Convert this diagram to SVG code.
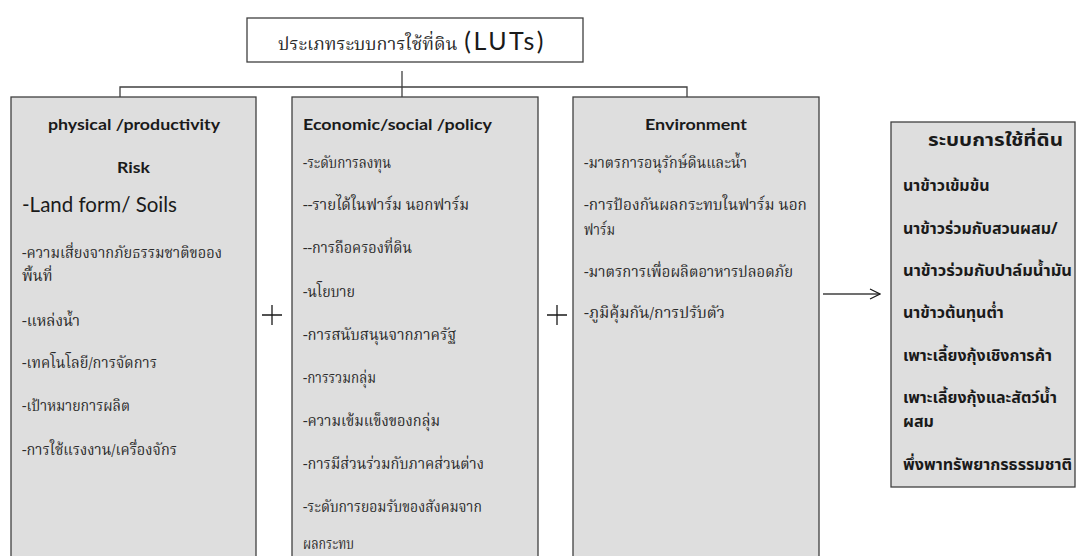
<svg xmlns="http://www.w3.org/2000/svg" width="1079" height="556" viewBox="0 0 1079 556">
  <style>
    .box { fill: #dedede; stroke: #404040; stroke-width: 1.3; }
    .title-box { fill: #ffffff; stroke: #404040; stroke-width: 1.3; }
    .wire { fill: none; stroke: #404040; stroke-width: 1.3; }
    .plus { fill: none; stroke: #1a1a1a; stroke-width: 1.3; }
    .head { font-family: Lato, "Open Sans", "Liberation Sans", sans-serif; font-weight: bold; font-size: 15px; fill: #1a1a1a; }
    .lat { font-family: Lato, "Open Sans", "Liberation Sans", sans-serif; fill: #1a1a1a; }
    .th { font-family: "Noto Serif Thai", "Noto Sans Thai", "Noto Sans", serif; font-size: 15px; fill: #2a2a2a; }
    .thb { font-family: "Noto Sans Thai", "Noto Sans", "DejaVu Sans", sans-serif; font-weight: bold; font-size: 16px; fill: #1a1a1a; }
    .title-th { font-size: 18px; }
    .title-lat { font-size: 25px; letter-spacing: 2.5px; }
    .list-head { font-size: 17.5px; }
  </style>
  <defs>
    <marker id="open-arrow" markerWidth="12" markerHeight="12" refX="11" refY="6" orient="auto" markerUnits="userSpaceOnUse">
      <path d="M1,1 L11,6 L1,11" fill="none" stroke="#1a1a1a" stroke-width="1.2"/>
    </marker>
  </defs>

  <!-- connectors -->
  <g id="connectors">
    <line class="wire" x1="402" y1="71" x2="402" y2="97"/>
    <polyline class="wire" points="120,97 120,87 687,87 687,97"/>
    <line class="wire" x1="823" y1="294" x2="880" y2="294" marker-end="url(#open-arrow)"/>
    <path class="plus" d="M262,315 H282 M272,305 V325"/>
    <path class="plus" d="M547,315 H567 M557,305 V325"/>
  </g>

  <!-- title node -->
  <g id="node-luts">
    <rect class="title-box" x="247" y="18" width="336" height="44"/>
    <text x="278" y="50"><tspan class="th title-th">ประเภทระบบการใช้ที่ดิน</tspan><tspan class="lat title-lat" dx="7">(LUTs)</tspan></text>
  </g>

  <!-- physical / productivity -->
  <g id="node-physical">
    <rect class="box" x="11" y="97" width="245" height="475"/>
    <text class="head" x="48" y="130" textLength="172" lengthAdjust="spacingAndGlyphs">physical /productivity</text>
    <text class="head" x="117" y="173" textLength="33" lengthAdjust="spacingAndGlyphs">Risk</text>
    <text class="lat" x="22" y="212" font-size="21" textLength="155" lengthAdjust="spacingAndGlyphs">-Land form/ Soils</text>
    <text class="th" x="22" y="258" textLength="200" lengthAdjust="spacingAndGlyphs">-ความเสี่ยงจากภัยธรรมชาติขออง</text>
    <text class="th" x="22" y="281">พื้นที่</text>
    <text class="th" x="22" y="326" textLength="58" lengthAdjust="spacingAndGlyphs">-แหล่งน้ำ</text>
    <text class="th" x="22" y="368" textLength="135" lengthAdjust="spacingAndGlyphs">-เทคโนโลยี/การจัดการ</text>
    <text class="th" x="22" y="411" textLength="108" lengthAdjust="spacingAndGlyphs">-เป้าหมายการผลิต</text>
    <text class="th" x="22" y="455" textLength="155" lengthAdjust="spacingAndGlyphs">-การใช้แรงงาน/เครื่องจักร</text>
  </g>

  <!-- economic / social / policy -->
  <g id="node-economic">
    <rect class="box" x="292" y="97" width="246" height="475"/>
    <text class="head" x="303" y="130" textLength="189" lengthAdjust="spacingAndGlyphs">Economic/social /policy</text>
    <text class="th" x="303" y="168" textLength="88" lengthAdjust="spacingAndGlyphs">-ระดับการลงทุน</text>
    <text class="th" x="303" y="210" textLength="166" lengthAdjust="spacingAndGlyphs">--รายได้ในฟาร์ม นอกฟาร์ม</text>
    <text class="th" x="303" y="253" textLength="109" lengthAdjust="spacingAndGlyphs">--การถือครองที่ดิน</text>
    <text class="th" x="303" y="297" textLength="52" lengthAdjust="spacingAndGlyphs">-นโยบาย</text>
    <text class="th" x="303" y="340" textLength="153" lengthAdjust="spacingAndGlyphs">-การสนับสนุนจากภาครัฐ</text>
    <text class="th" x="303" y="383" textLength="73" lengthAdjust="spacingAndGlyphs">-การรวมกลุ่ม</text>
    <text class="th" x="303" y="426" textLength="137" lengthAdjust="spacingAndGlyphs">-ความเข้มแข็งของกลุ่ม</text>
    <text class="th" x="303" y="469" textLength="181" lengthAdjust="spacingAndGlyphs">-การมีส่วนร่วมกับภาคส่วนต่าง</text>
    <text class="th" x="303" y="512" textLength="179" lengthAdjust="spacingAndGlyphs">-ระดับการยอมรับของสังคมจาก</text>
    <text class="th" x="303" y="549" textLength="51" lengthAdjust="spacingAndGlyphs">ผลกระทบ</text>
  </g>

  <!-- environment -->
  <g id="node-environment">
    <rect class="box" x="573" y="97" width="246" height="475"/>
    <text class="head" x="645" y="130" textLength="102" lengthAdjust="spacingAndGlyphs">Environment</text>
    <text class="th" x="584" y="168" textLength="163" lengthAdjust="spacingAndGlyphs">-มาตรการอนุรักษ์ดินและน้ำ</text>
    <text class="th" x="584" y="210" textLength="223" lengthAdjust="spacingAndGlyphs">-การป้องกันผลกระทบในฟาร์ม นอก</text>
    <text class="th" x="584" y="235" textLength="31" lengthAdjust="spacingAndGlyphs">ฟาร์ม</text>
    <text class="th" x="584" y="277" textLength="209" lengthAdjust="spacingAndGlyphs">-มาตรการเพื่อผลิตอาหารปลอดภัย</text>
    <text class="th" x="584" y="318" textLength="141" lengthAdjust="spacingAndGlyphs">-ภูมิคุ้มกัน/การปรับตัว</text>
  </g>

  <!-- land use systems -->
  <g id="node-landuse">
    <rect class="box" x="891" y="122" width="184" height="365"/>
    <text class="thb list-head" x="928" y="146" textLength="135" lengthAdjust="spacingAndGlyphs">ระบบการใช้ที่ดิน</text>
    <text class="thb" x="903" y="191">นาข้าวเข้มข้น</text>
    <text class="thb" x="903" y="234">นาข้าวร่วมกับสวนผสม/</text>
    <text class="thb" x="903" y="276" textLength="169" lengthAdjust="spacingAndGlyphs">นาข้าวร่วมกับปาล์มน้ำมัน</text>
    <text class="thb" x="903" y="318">นาข้าวต้นทุนต่ำ</text>
    <text class="thb" x="903" y="361">เพาะเลี้ยงกุ้งเชิงการค้า</text>
    <text class="thb" x="903" y="403">เพาะเลี้ยงกุ้งและสัตว์น้ำ</text>
    <text class="thb" x="903" y="427">ผสม</text>
    <text class="thb" x="903" y="470" textLength="169" lengthAdjust="spacingAndGlyphs">พึ่งพาทรัพยากรธรรมชาติ</text>
  </g>
</svg>
